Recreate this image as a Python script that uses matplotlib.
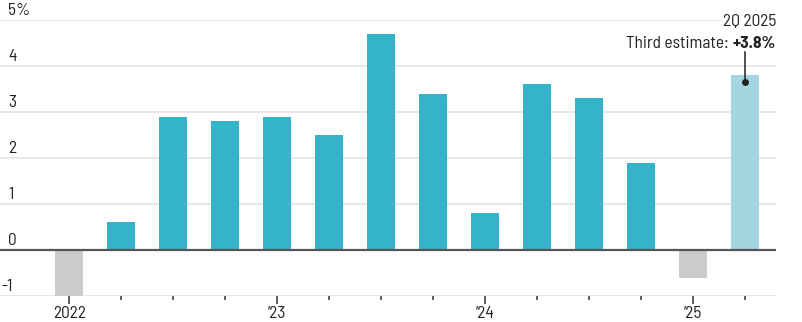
import matplotlib
matplotlib.use("Agg")
import matplotlib.pyplot as plt
from matplotlib import font_manager

quarters = ["1Q22", "2Q22", "3Q22", "4Q22", "1Q23", "2Q23", "3Q23", "4Q23",
            "1Q24", "2Q24", "3Q24", "4Q24", "1Q25", "2Q25"]
growth = [-1.0, 0.6, 2.9, 2.8, 2.9, 2.5, 4.7, 3.4, 0.8, 3.6, 3.3, 1.9, -0.6, 3.8]
year_labels = {0: "2022", 4: "\u201923", 8: "\u201924", 12: "\u201925"}
y_ticks = [-1, 0, 1, 2, 3, 4, 5]
y_tick_labels = ["-1", "0", "1", "2", "3", "4", "5%"]
annot_title = "2Q 2025"
annot_label = "Third estimate: "
annot_value = "+3.8%"

names = {f.name for f in font_manager.fontManager.ttflist}
fam, FS = "Liberation Sans", 11.5
for cand, size in [("Barlow Semi Condensed", 12.5), ("Asap Condensed", 13.0)]:
    if cand in names:
        fam, FS = cand, size
        break
plt.rcParams["font.family"] = [fam, "DejaVu Sans"]

TEAL = "#35b4c9"
GRAY = "#cbcbcb"
LIGHT = "#a4d5e1"
TXT = "#222222"

W, H = 802, 322
fig = plt.figure(figsize=(W / 100, H / 100), dpi=100)
ax = fig.add_axes([0, (H - 296) / H, 776 / W, 276 / H])

x = list(range(len(growth)))
colors = []
for i, v in enumerate(growth):
    if i == len(growth) - 1:
        colors.append(LIGHT)
    elif v < 0:
        colors.append(GRAY)
    else:
        colors.append(TEAL)
ax.bar(x, growth, width=0.54, color=colors, zorder=2)

ax.set_xlim(-1.33, 13.6)
ax.set_ylim(-1, 5)

for t in y_ticks:
    if t == 0:
        ax.axhline(0, color="#555555", lw=1.6, zorder=3)
    else:
        ax.axhline(t, color="#e4e4e4", lw=1.2, zorder=1)

for t, lab in zip(y_ticks, y_tick_labels):
    xoff = 1 if lab.startswith("-") else 8
    ax.annotate(lab, xy=(0, t), xycoords=("axes fraction", "data"),
                xytext=(xoff, 2), textcoords="offset pixels",
                ha="left", va="bottom", fontsize=FS, color=TXT, zorder=4)

for s in ax.spines.values():
    s.set_visible(False)
ax.set_yticks([])

major = sorted(year_labels.keys())
minor = [i for i in x if i not in year_labels]
ax.set_xticks(major)
ax.set_xticklabels([year_labels[i] for i in major], fontsize=FS, color=TXT)
ax.set_xticks(minor, minor=True)
ax.tick_params(axis="x", which="major", length=6, width=1.2, color="#444444", pad=1)
ax.tick_params(axis="x", which="minor", length=3, width=1.2, color="#444444")

# annotation for last bar
last = len(growth) - 1
v = growth[last]
ax.plot([last], [v - 0.15], "o", color="#222222", ms=4, zorder=5)
ax.plot([last, last], [v - 0.15, 4.3], color="#222222", lw=1.1, zorder=5)
ax.annotate(annot_title, xy=(1, 5), xycoords=("axes fraction", "data"),
            xytext=(0, -9), textcoords="offset pixels", ha="right", va="bottom",
            fontsize=FS, color=TXT, zorder=6,
            bbox=dict(boxstyle="square,pad=0.1", fc="white", ec="none"))
tv = ax.annotate(annot_value, xy=(1, 4.5), xycoords=("axes fraction", "data"),
                 ha="right", va="center", fontsize=FS, color=TXT,
                 fontweight="bold", zorder=6)
fig.canvas.draw()
bb = tv.get_window_extent()
ax.annotate(annot_label, xy=(bb.x0, (bb.y0 + bb.y1) / 2), xycoords="figure pixels",
            ha="right", va="center", fontsize=FS, color=TXT, zorder=6)

fig.savefig("out.png", dpi=100)
